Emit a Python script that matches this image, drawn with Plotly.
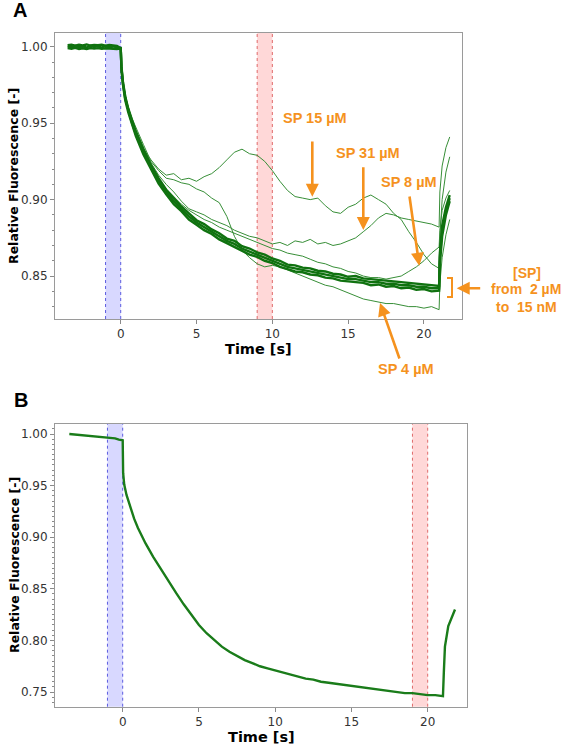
import plotly.graph_objects as go

# ---------------- Panel A data ----------------
time_base_a = [-3.5, -3.25, -3.0, -2.75, -2.5, -2.25, -2.0, -1.75, -1.5, -1.25, -1.0, -0.75, -0.5, -0.25]
base_a1 = [1.0004, 0.9996, 1.0006, 0.9997, 1.0003, 0.9995, 1.0007, 0.9998, 1.0004, 0.9994, 1.0005, 0.9997, 1.0002, 0.9995]
base_a2 = [1.0010, 1.0014, 1.0007, 1.0013, 1.0009, 1.0015, 1.0008, 1.0012, 1.0010, 1.0014, 1.0007, 1.0012, 1.0009, 1.0006]
base_a3 = [0.9991, 0.9987, 0.9993, 0.9986, 0.9990, 0.9985, 0.9992, 0.9988, 0.9991, 0.9986, 0.9990, 0.9987, 0.9989, 0.9985]

time_a = [0.0, 0.05, 0.15, 0.3, 0.5, 0.75, 1.0, 1.5, 2.0, 2.5, 3.0, 3.5, 4.0, 4.5, 5.0, 5.5,
          6.0, 6.5, 7.0, 7.5, 8.0, 8.5, 9.0, 9.5, 10.0, 10.5, 11.0, 11.5, 12.0, 12.5, 13.0,
          13.5, 14.0, 14.5, 15.0, 15.5, 16.0, 16.5, 17.0, 17.5, 18.0, 18.5, 19.0, 19.5, 20.0,
          20.5, 21.0]
time_rise_a = [21.05, 21.2, 21.45, 21.7]

bundle_1 = [0.999, 0.986, 0.976, 0.966, 0.958, 0.950, 0.943, 0.931, 0.921, 0.912, 0.905, 0.899,
            0.894, 0.889, 0.885, 0.882, 0.879, 0.876, 0.873, 0.871, 0.868, 0.866, 0.864, 0.862,
            0.860, 0.858, 0.856, 0.855, 0.854, 0.853, 0.852, 0.851, 0.850, 0.849, 0.848, 0.848,
            0.847, 0.846, 0.846, 0.845, 0.845, 0.844, 0.844, 0.843, 0.843, 0.842, 0.842]
bundle_2 = [0.999, 0.987, 0.977, 0.9675, 0.9595, 0.9515, 0.9445, 0.9330, 0.9225, 0.9140, 0.9065,
            0.9010, 0.8955, 0.8910, 0.8865, 0.8840, 0.8805, 0.8780, 0.8745, 0.8730, 0.8695,
            0.8680, 0.8655, 0.8640, 0.8615, 0.8600, 0.8575, 0.8570, 0.8555, 0.8550, 0.8535,
            0.8530, 0.8515, 0.8510, 0.8495, 0.8500, 0.8485, 0.8480, 0.8475, 0.8470, 0.8465,
            0.8460, 0.8455, 0.8450, 0.8445, 0.8440, 0.8435]
bundle_3 = [0.999, 0.985, 0.975, 0.9650, 0.9570, 0.9490, 0.9415, 0.9295, 0.9195, 0.9105, 0.9035,
            0.8970, 0.8925, 0.8870, 0.8835, 0.8800, 0.8775, 0.8740, 0.8715, 0.8690, 0.8665,
            0.8640, 0.8625, 0.8600, 0.8585, 0.8560, 0.8545, 0.8530, 0.8525, 0.8510, 0.8505,
            0.8490, 0.8485, 0.8470, 0.8465, 0.8460, 0.8455, 0.8440, 0.8445, 0.8430, 0.8435,
            0.8420, 0.8425, 0.8410, 0.8415, 0.8400, 0.8405]
rise_bundle_1 = [0.862, 0.880, 0.893, 0.901]
rise_bundle_2 = [0.865, 0.883, 0.895, 0.903]
rise_bundle_3 = [0.858, 0.876, 0.890, 0.899]

sp15 = [0.999, 0.986, 0.977, 0.967, 0.959, 0.951, 0.945, 0.933, 0.926, 0.920, 0.916, 0.917,
        0.913, 0.914, 0.912, 0.915, 0.917, 0.921, 0.926, 0.931, 0.933, 0.930, 0.929, 0.925,
        0.919, 0.912, 0.906, 0.902, 0.901, 0.900, 0.901, 0.896, 0.892, 0.891, 0.895, 0.897,
        0.901, 0.903, 0.900, 0.897, 0.891, 0.887, 0.879, 0.872, 0.864, 0.858, 0.855]
sp31 = [0.999, 0.985, 0.975, 0.967, 0.959, 0.951, 0.945, 0.934, 0.924, 0.916, 0.910, 0.905,
        0.899, 0.894, 0.892, 0.890, 0.887, 0.885, 0.883, 0.880, 0.878, 0.876, 0.875, 0.873,
        0.871, 0.872, 0.870, 0.873, 0.872, 0.874, 0.871, 0.872, 0.870, 0.871, 0.873, 0.875,
        0.879, 0.883, 0.888, 0.891, 0.890, 0.888, 0.887, 0.886, 0.885, 0.884, 0.882]
sp8 = [0.999, 0.986, 0.976, 0.967, 0.959, 0.952, 0.945, 0.933, 0.922, 0.914, 0.907, 0.902,
       0.897, 0.893, 0.890, 0.887, 0.885, 0.882, 0.880, 0.878, 0.876, 0.874, 0.872, 0.870,
       0.868, 0.867, 0.865, 0.864, 0.863, 0.861, 0.859, 0.858, 0.856, 0.855, 0.853, 0.852,
       0.850, 0.849, 0.849, 0.848, 0.849, 0.850, 0.853, 0.856, 0.860, 0.865, 0.869]
sp4 = [0.999, 0.985, 0.976, 0.968, 0.960, 0.953, 0.947, 0.936, 0.925, 0.919, 0.914, 0.913,
       0.911, 0.910, 0.907, 0.905, 0.901, 0.898, 0.889, 0.876, 0.867, 0.862, 0.858, 0.856,
       0.857, 0.856, 0.854, 0.852, 0.850, 0.848, 0.846, 0.844, 0.843, 0.841, 0.839, 0.837,
       0.835, 0.834, 0.833, 0.832, 0.832, 0.831, 0.830, 0.830, 0.829, 0.830, 0.828]
rise_sp15 = [0.875, 0.900, 0.918, 0.928]
rise_sp31 = [0.905, 0.922, 0.934, 0.941]
rise_sp8 = [0.880, 0.893, 0.901, 0.906]
rise_sp4 = [0.845, 0.862, 0.877, 0.887]

# ---------------- Panel B data ----------------
time_base_b = [-3.5, -3.25, -3.0, -2.75, -2.5, -2.25, -2.0, -1.75, -1.5, -1.25, -1.0, -0.75, -0.5, -0.25]
base_b = [1.0000, 0.9997, 0.9994, 0.9991, 0.9988, 0.9984, 0.9982, 0.9978, 0.9974, 0.9971,
          0.9967, 0.9962, 0.9958, 0.9945]
time_b = [0.0, 0.03, 0.1, 0.25, 0.5, 0.75, 1.0, 1.5, 2.0, 2.5, 3.0, 3.5, 4.0, 4.5, 5.0, 5.5,
          6.0, 6.5, 7.0, 7.5, 8.0, 8.5, 9.0, 9.5, 10.0, 10.5, 11.0, 11.5, 12.0, 12.5, 13.0,
          13.5, 14.0, 14.5, 15.0, 15.5, 16.0, 16.5, 17.0, 17.5, 18.0, 18.5, 19.0, 19.5, 20.0,
          20.5, 21.0]
decay_b = [0.994, 0.962, 0.951, 0.941, 0.929, 0.918, 0.909, 0.894, 0.881, 0.869, 0.857, 0.846,
           0.835, 0.825, 0.815, 0.807, 0.800, 0.794, 0.789, 0.785, 0.781, 0.778, 0.775, 0.773,
           0.771, 0.769, 0.767, 0.765, 0.763, 0.762, 0.760, 0.759, 0.758, 0.757, 0.756, 0.755,
           0.754, 0.753, 0.752, 0.751, 0.750, 0.749, 0.749, 0.748, 0.747, 0.747, 0.746]
time_rise_b = [21.06, 21.13, 21.35, 21.55, 21.79]
rise_b = [0.770, 0.794, 0.814, 0.822, 0.830]

x_ticks = [0, 5, 10, 15, 20]

# ---------------- Figure ----------------
W, H = 565, 745


def px(x):
    return x / W


def py(y):
    return 1 - y / H


fig = go.Figure()
GREEN_THICK = 'rgb(16,114,16)'
GREEN_THIN = 'rgb(55,142,55)'
GREEN_B = 'rgb(26,124,26)'


def add(x, y, xa, ya, color, width):
    fig.add_trace(go.Scatter(x=x, y=y, mode='lines', line=dict(color=color, width=width),
                             xaxis=xa, yaxis=ya, showlegend=False, hoverinfo='skip'))


for vals, rise in [(sp15, rise_sp15), (sp31, rise_sp31), (sp8, rise_sp8), (sp4, rise_sp4)]:
    add(time_a + time_rise_a, vals + rise, 'x', 'y', GREEN_THIN, 1)

for base, vals, rise in [(base_a2, bundle_2, rise_bundle_2), (base_a3, bundle_3, rise_bundle_3),
                         (base_a1, bundle_1, rise_bundle_1)]:
    add(time_base_a + time_a + time_rise_a, base + vals + rise, 'x', 'y', GREEN_THICK, 2.4)

add(time_base_b + time_b + time_rise_b, base_b + decay_b + rise_b, 'x2', 'y2', GREEN_B, 2.4)

tickfont = dict(family='DejaVu Sans', size=12, color='#333333')
axis_common = dict(showline=True, mirror=True, linecolor='#9a9a9a', linewidth=1,
                   showgrid=False, zeroline=False, ticks='outside', ticklen=4,
                   tickcolor='#8a8a8a', tickfont=tickfont)

fig.update_layout(
    width=W, height=H, margin=dict(l=0, r=0, t=0, b=0),
    paper_bgcolor='white', plot_bgcolor='white', showlegend=False,
    xaxis=dict(domain=[px(55), px(462.3)], range=[-4.334, 22.53], anchor='y',
               tickvals=x_ticks, **axis_common),
    yaxis=dict(domain=[py(319), py(33)], range=[0.8219, 1.009], anchor='x',
               dtick=0.05, tick0=0, tickformat='.2f',
               minor=dict(dtick=0.01, tick0=0, ticks='outside', ticklen=2, tickcolor='#8a8a8a'),
               **axis_common),
    xaxis2=dict(domain=[px(55), px(466.7)], range=[-4.439, 22.557], anchor='y2',
                tickvals=x_ticks, **axis_common),
    yaxis2=dict(domain=[py(706.7), py(424)], range=[0.7358, 1.0097], anchor='x2',
                dtick=0.05, tick0=0, tickformat='.2f',
                minor=dict(dtick=0.005, tick0=0, ticks='outside', ticklen=2, tickcolor='#8a8a8a'),
                **axis_common),
)

# Bands
shapes = []
for xr, yr, x0, x1, fill, edge in [('x', 'y domain', -1, 0, '#D8D8FF', '#5C5CE0'),
                                   ('x', 'y domain', 9, 10, '#FFD8D8', '#E06A6A'),
                                   ('x2', 'y2 domain', -1, 0, '#D8D8FF', '#5C5CE0'),
                                   ('x2', 'y2 domain', 19, 20, '#FFD8D8', '#E06A6A')]:
    shapes.append(dict(type='rect', xref=xr, yref=yr, x0=x0, x1=x1, y0=0, y1=1,
                       fillcolor=fill, line=dict(width=0), layer='below'))
    for xv in (x0, x1):
        shapes.append(dict(type='line', xref=xr, yref=yr, x0=xv, x1=xv, y0=0, y1=1,
                           line=dict(color=edge, width=1, dash='dot'), layer='below'))

ORANGE = '#F5921E'
# bracket
shapes.append(dict(type='path', xref='paper', yref='paper',
                   path=f'M {px(447)},{py(278)} L {px(452)},{py(278)} L {px(452)},{py(297)} L {px(447)},{py(297)}',
                   line=dict(color=ORANGE, width=2)))
fig.update_layout(shapes=shapes)

ann = []
lab_font = dict(family='Liberation Sans, Arial', size=14.5, color=ORANGE)
side_font = dict(family='Liberation Sans, Arial', size=14, color=ORANGE)
for txt, x, y, f in [('<b>SP 15 µM</b>', 314.5, 118, lab_font),
                     ('<b>SP 31 µM</b>', 367.5, 152.7, lab_font),
                     ('<b>SP 8 µM</b>', 408.5, 181.7, lab_font),
                     ('<b>[SP]</b>', 527, 272.7, side_font),
                     ('<b>from\u00a0 2 µM</b>', 526, 289.3, side_font),
                     ('<b>to\u00a0 15 nM</b>', 526, 306.7, side_font),
                     ('<b>SP 4 µM</b>', 406, 369, lab_font)]:
    ann.append(dict(text=txt, x=px(x), y=py(y), xref='paper', yref='paper', showarrow=False,
                    xanchor='center', yanchor='middle', font=f))

for hx, hy, tx, ty in [(312.3, 196.7, 312.3, 140), (363.3, 230, 363.3, 165.7),
                       (419.3, 265.7, 409.3, 195), (380, 303, 400, 360),
                       (456.7, 288.3, 481.7, 288.3)]:
    ann.append(dict(text='', x=px(hx), y=py(hy), xref='paper', yref='paper', showarrow=True,
                    ax=tx - hx, ay=ty - hy, arrowhead=2, arrowsize=1, arrowwidth=2.6,
                    arrowcolor=ORANGE, standoff=0))

title_font = dict(family='DejaVu Sans', size=14.5, color='black')
ytitle_font = dict(family='DejaVu Sans', size=12.5, color='black')
for txt, x, y in [('<b>Time [s]</b>', 258.5, 349), ('<b>Time [s]</b>', 261, 737)]:
    ann.append(dict(text=txt, x=px(x), y=py(y), xref='paper', yref='paper', showarrow=False,
                    xanchor='center', yanchor='middle', font=title_font))
for y in (176, 565):
    ann.append(dict(text='<b>Relative Fluorescence [-]</b>', x=px(14), y=py(y), xref='paper',
                    yref='paper', showarrow=False, xanchor='center', yanchor='middle',
                    textangle=-90, font=ytitle_font))
for txt, x, y in [('<b>A</b>', 20, 10), ('<b>B</b>', 21, 400)]:
    ann.append(dict(text=txt, x=px(x), y=py(y), xref='paper', yref='paper', showarrow=False,
                    xanchor='center', yanchor='middle',
                    font=dict(family='Liberation Sans, Arial', size=20, color='black')))

fig.update_layout(annotations=ann)
fig.write_html('out.html', config={'displayModeBar': False},
               post_script="document.body.style.margin='0px';document.body.style.overflow='hidden';")
